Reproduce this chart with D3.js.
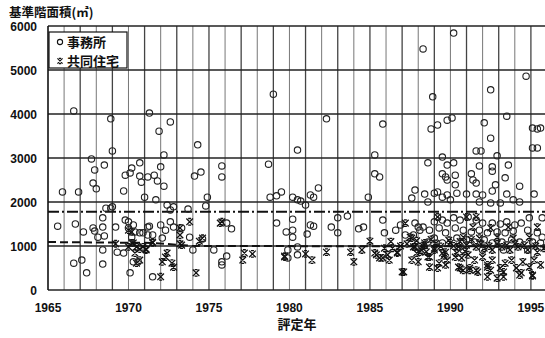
<!DOCTYPE html>
<html>
<head>
<meta charset="utf-8">
<script src="https://cdn.jsdelivr.net/npm/d3@7"></script>
<style>
  body { margin: 0; background: #fff; }
  text { font-family: "Liberation Sans", Arial, sans-serif; font-weight: bold; fill: #111; }
  .cjk { font-family: "Noto Sans CJK JP", sans-serif; }
</style>
</head>
<body>
<svg id="chart"></svg>
<script>
// axis ticks
const yearTicks = [1965, 1970, 1975, 1980, 1985, 1990, 1995];
const areaTicks = [0, 1000, 2000, 3000, 4000, 5000, 6000];

// reference lines (office mean = dash-dot, apartment mean = dashed)
const officeMean = 1780;
const apartmentMean = [[1965, 1090], [1971.5, 1070], [1974, 1000], [1996, 990]];

// 事務所 (offices): [year, area]
const offices = [
  [1966.6,4070],[1968.9,3890],[1969.0,3160],[1967.7,2980],[1967.9,2730],[1968.5,2840],[1967.8,2430],[1968.0,2300],
  [1965.9,2230],[1966.9,2230],[1969.7,2250],[1970.2,2770],[1970.7,2890],[1969.8,2610],[1970.1,2660],[1970.7,2590],
  [1970.8,2450],[1971.2,2570],[1971.0,2110],[1968.6,1860],[1968.9,1860],[1969.0,1890],[1965.6,1450],[1966.7,1500],
  [1967.2,1320],[1967.8,1410],[1967.9,1340],[1968.4,1430],[1968.1,1200],[1968.5,1230],[1969.2,1430],[1969.8,1590],
  [1970.0,1550],[1970.3,1480],[1970.0,1410],[1970.4,1320],[1970.7,1300],[1970.2,1200],[1971.2,1250],[1971.2,1430],
  [1968.4,910],[1969.3,860],[1969.7,840],[1966.6,610],[1967.1,680],[1968.4,590],[1967.4,390],[1970.3,640],
  [1970.6,640],[1970.1,390],[1968.4,1640],
  [1971.3,4020],[1972.6,3820],[1971.9,3610],[1974.3,3300],[1972.2,3070],[1972.0,2800],[1971.6,2610],[1971.8,2480],
  [1972.2,2360],[1971.7,2050],[1972.4,1930],[1972.8,1890],[1972.6,1820],[1974.5,2680],[1974.1,2590],[1975.8,2820],
  [1975.8,2570],[1974.9,2110],[1974.8,1910],[1973.7,1840],[1971.3,1450],[1972.0,1480],[1972.6,1550],[1972.8,1430],
  [1972.3,1360],[1971.5,1250],[1972.1,1180],[1970.9,1300],[1973.8,1200],[1973.3,1410],[1976.1,1520],[1976.4,1390],
  [1974.6,1160],[1974.0,910],[1975.3,910],[1976.1,770],[1975.8,640],[1975.8,570],[1971.5,300],
  [1979.0,4450],[1982.3,3890],[1980.5,3180],[1978.7,2860],[1978.8,2110],[1979.2,2140],[1979.5,2230],[1980.2,2110],
  [1980.5,2050],[1980.7,2020],[1981.0,1930],[1981.3,2160],[1981.5,2110],[1981.8,2320],[1984.9,2110],[1985.3,2640],
  [1985.3,3070],[1979.2,1520],[1980.2,1610],[1979.8,1320],[1980.2,1360],[1980.2,1200],[1981.3,1480],[1981.5,1450],
  [1981.1,1270],[1982.6,1430],[1983.0,1640],[1983.0,1300],[1984.3,1390],[1984.6,1430],[1980.5,980],[1980.5,800],
  [1979.9,910],[1979.9,730],[1983.6,1680],
  [1988.3,5480],[1988.9,4390],[1985.8,3770],[1988.8,3660],[1989.2,3750],[1989.8,3860],[1990.1,3910],[1985.6,2570],
  [1988.6,2890],[1989.5,3020],[1989.8,2840],[1989.5,2640],[1989.7,2570],[1989.8,2500],[1987.8,2270],[1988.4,2180],
  [1987.6,2090],[1988.6,2000],[1989.0,2200],[1989.2,2230],[1989.5,2110],[1989.8,2160],[1985.8,1590],[1985.9,1300],
  [1987.8,1520],[1988.0,1430],[1989.0,1550],[1989.2,1660],[1988.3,1430],[1987.7,1250],[1988.7,1360],[1989.5,1590],
  [1989.8,1520],[1989.3,1410],[1989.7,1300],[1989.0,1180],[1988.6,1090],[1989.5,1070],[1988.1,1360],[1987.2,1250],
  [1986.9,1480],[1986.6,1360],
  [1990.2,5840],[1994.7,4860],[1992.5,4550],[1993.5,3950],[1992.1,3800],[1992.5,3450],[1995.1,3680],[1995.4,3660],
  [1995.6,3680],[1995.1,3230],[1995.4,3230],[1991.6,3160],[1991.9,3160],[1992.9,3050],[1990.2,2890],[1991.8,2820],
  [1992.6,2800],[1992.6,2700],[1993.6,2840],[1990.3,2610],[1991.3,2640],[1991.4,2500],[1991.6,2430],[1993.4,2550],
  [1990.3,2390],[1992.8,2390],[1994.3,2360],[1990.4,2200],[1991.0,2180],[1991.6,2180],[1992.0,2160],[1992.6,2250],
  [1993.5,2180],[1993.9,2050],[1994.3,2000],[1995.2,2180],[1990.0,2050],[1991.8,2000],[1992.5,1980],[1993.1,1980],
  [1990.2,1640],[1990.6,1590],[1991.1,1660],[1991.6,1590],[1992.0,1520],[1992.6,1520],[1993.1,1500],[1993.5,1550],
  [1994.0,1480],[1994.4,1520],[1994.9,1640],[1995.7,1640],[1990.3,1410],[1990.8,1360],[1991.3,1320],[1991.8,1360],
  [1992.3,1300],[1992.9,1320],[1993.4,1300],[1993.9,1340],[1994.8,1360],[1995.4,1300],[1995.7,1200],[1990.4,1180],
  [1991.0,1140],[1991.5,1090],[1992.1,1140],[1992.6,1070],[1993.2,1090],[1993.8,1140],[1994.3,1090],[1995.1,1090],
  [1995.6,1070],[1990.8,910],[1992.0,910],[1993.3,910],[1994.8,910]
];

// 共同住宅 (apartments): [year, area]
const apartments = [
  [1969.2,1050],[1970.0,980],[1970.3,1070],[1970.5,980],[1970.7,930],[1970.9,980],[1970.2,1320],[1970.4,840],
  [1970.7,680],[1970.0,1360],[1970.2,1070],[1971.1,910],[1971.5,1070],[1972.1,640],[1972.3,750],[1972.8,520],
  [1972.0,300],[1973.8,1550],[1973.2,1250],[1973.3,1020],[1970.5,610],[1972.4,840],[1973.2,1410],[1971.5,1090],
  [1971.1,930],[1972.7,610],[1974.2,390],[1974.4,1110],[1973.2,1050],[1975.7,1520],[1977.1,680],[1975.8,1550],
  [1974.6,1180],[1977.7,820],[1979.7,750],[1981.0,820],[1981.4,680],[1982.3,860],[1983.8,860],[1984.0,640],
  [1984.5,910],[1985.0,1110],[1977.2,840],[1979.7,770],
  [1985.3,840],[1985.6,730],[1986.1,800],[1986.4,950],[1986.7,840],[1987.2,1520],[1987.1,410],[1987.5,1200],
  [1987.7,980],[1987.9,840],[1988.2,910],[1988.4,1070],[1988.6,750],[1989.0,910],[1989.5,840],[1989.8,680],
  [1988.7,520],[1989.2,500],[1989.7,570],[1988.0,640],[1987.6,680],[1985.4,800],[1985.8,730],[1986.2,680],
  [1986.7,860],[1987.0,410],[1987.6,1180],[1987.8,980],[1988.1,860],[1988.4,1020],[1988.7,750],[1989.0,950],
  [1989.3,610],[1989.2,1660],[1989.7,860],[1990.0,1070],[1990.3,750],[1990.5,520],[1990.8,450],[1991.2,500],
  [1991.6,450],[1992.3,570],[1992.5,450],[1993.3,410],[1994.4,390],[1995.1,340],[1991.0,1660],[1991.6,1660],
  [1990.4,840],[1990.7,730],[1991.1,800],[1991.5,680],[1992.0,750],[1992.3,520],[1992.6,680],[1993.1,500],
  [1993.4,610],[1993.8,680],[1994.1,500],[1994.5,640],[1994.9,520],[1995.2,680],[1995.6,570],[1990.6,500],
  [1991.2,450],[1991.7,410],[1992.3,300],[1992.9,270],[1993.3,300],[1994.3,340],[1995.1,320],[1990.5,980],
  [1991.0,1020],[1991.6,980],[1992.1,950],[1992.6,910],[1993.2,980],[1993.7,910],[1994.2,980],[1994.8,910],
  [1995.4,860],[1990.8,1200],[1991.8,1180],[1992.9,1200],[1993.9,1180],[1994.9,1200],[1992.5,1410],[1993.6,1430],
  [1991.4,1430],[1995.4,1430],
  [1987.3,1050],[1987.9,1120],[1988.3,1000],[1988.8,1150],[1989.1,1060],[1989.4,990],[1989.9,1130],[1990.2,1000],
  [1990.6,1100],[1988.5,870],[1989.6,780],[1990.9,880],[1991.3,1150],[1991.9,1050],[1992.4,1000],[1992.9,1050],
  [1993.5,1020],[1994.0,1050],[1994.6,1020],[1995.3,1000],[1995.8,950],[1986.3,1100],[1986.9,1000],[1985.9,950]
];

const width = 545, height = 338;
const svg = d3.select('#chart').attr('width', width).attr('height', height);

const x = d3.scaleLinear().domain([1965, 1996]).range([48, 547]);
const y = d3.scaleLinear().domain([0, 6000]).range([290, 26]);

// yearly vertical grid
const years = d3.range(1966, 1997);
svg.append('g').selectAll('line')
  .data(years)
  .enter().append('line')
  .attr('x1', d => x(d)).attr('x2', d => x(d))
  .attr('y1', y(6000)).attr('y2', y(0))
  .attr('stroke', (d, i) => i % 2 ? '#444' : '#777')
  .attr('stroke-width', (d, i) => i % 2 ? 1.3 : 1);

// horizontal grid
svg.append('g').selectAll('line')
  .data(areaTicks)
  .enter().append('line')
  .attr('x1', x(1965)).attr('x2', width)
  .attr('y1', d => y(d)).attr('y2', d => y(d))
  .attr('stroke', '#222')
  .attr('stroke-width', 1.3);

// left frame
svg.append('line')
  .attr('x1', x(1965)).attr('x2', x(1965))
  .attr('y1', y(6000)).attr('y2', y(0))
  .attr('stroke', '#111').attr('stroke-width', 1.6);

// mean lines
svg.append('line')
  .attr('x1', x(1965)).attr('x2', width)
  .attr('y1', y(officeMean)).attr('y2', y(officeMean))
  .attr('stroke', '#111').attr('stroke-width', 2)
  .attr('stroke-dasharray', '11,3,2,3');

svg.append('path')
  .datum(apartmentMean)
  .attr('fill', 'none')
  .attr('stroke', '#111').attr('stroke-width', 2)
  .attr('stroke-dasharray', '8,4')
  .attr('d', d3.line().x(d => x(d[0])).y(d => y(d[1])));

// apartment marker: x with short caps
function crossPath(s) {
  return `M${-s},${-s}L${s},${s}M${s},${-s}L${-s},${s}` +
         `M${-s * 0.45},${-s}L${s * 0.45},${-s}M${-s * 0.45},${s}L${s * 0.45},${s}`;
}

svg.append('g').selectAll('path')
  .data(apartments)
  .enter().append('path')
  .attr('transform', d => `translate(${x(d[0])},${y(d[1])})`)
  .attr('d', crossPath(3.3))
  .attr('fill', 'none')
  .attr('stroke', '#111')
  .attr('stroke-width', 1.3);

svg.append('g').selectAll('circle')
  .data(offices)
  .enter().append('circle')
  .attr('cx', d => x(d[0]))
  .attr('cy', d => y(d[1]))
  .attr('r', 3.2)
  .attr('fill', 'none')
  .attr('stroke', '#222')
  .attr('stroke-width', 1.1);

// y tick labels
svg.append('g').selectAll('text')
  .data(areaTicks)
  .enter().append('text')
  .attr('x', 37)
  .attr('y', d => y(d) + 5)
  .attr('text-anchor', 'end')
  .style('font-size', '12px')
  .text(d => d);

// x tick labels
svg.append('g').selectAll('text')
  .data(yearTicks)
  .enter().append('text')
  .attr('x', d => x(d))
  .attr('y', 312)
  .attr('text-anchor', 'middle')
  .style('font-size', '12px')
  .text(d => d);

// titles
svg.append('text')
  .attr('class', 'cjk')
  .attr('x', 9).attr('y', 17)
  .style('font-size', '12.5px')
  .text('基準階面積(㎡)');

svg.append('text')
  .attr('class', 'cjk')
  .attr('x', 297).attr('y', 329)
  .attr('text-anchor', 'middle')
  .style('font-size', '13px')
  .text('評定年');

// legend
const legend = svg.append('g');
legend.append('rect')
  .attr('x', 49).attr('y', 32).attr('width', 78).attr('height', 36)
  .attr('fill', '#fff').attr('stroke', '#111').attr('stroke-width', 1.2);
legend.append('circle')
  .attr('cx', 60).attr('cy', 42).attr('r', 2.6)
  .attr('fill', 'none').attr('stroke', '#111').attr('stroke-width', 1.1);
legend.append('text')
  .attr('class', 'cjk')
  .attr('x', 67).attr('y', 47)
  .style('font-size', '13px')
  .text('事務所');
legend.append('path')
  .attr('transform', 'translate(60,61)')
  .attr('d', crossPath(2.6))
  .attr('fill', 'none').attr('stroke', '#111').attr('stroke-width', 1.1);
legend.append('text')
  .attr('class', 'cjk')
  .attr('x', 67).attr('y', 66)
  .style('font-size', '13px')
  .text('共同住宅');
</script>
</body>
</html>
